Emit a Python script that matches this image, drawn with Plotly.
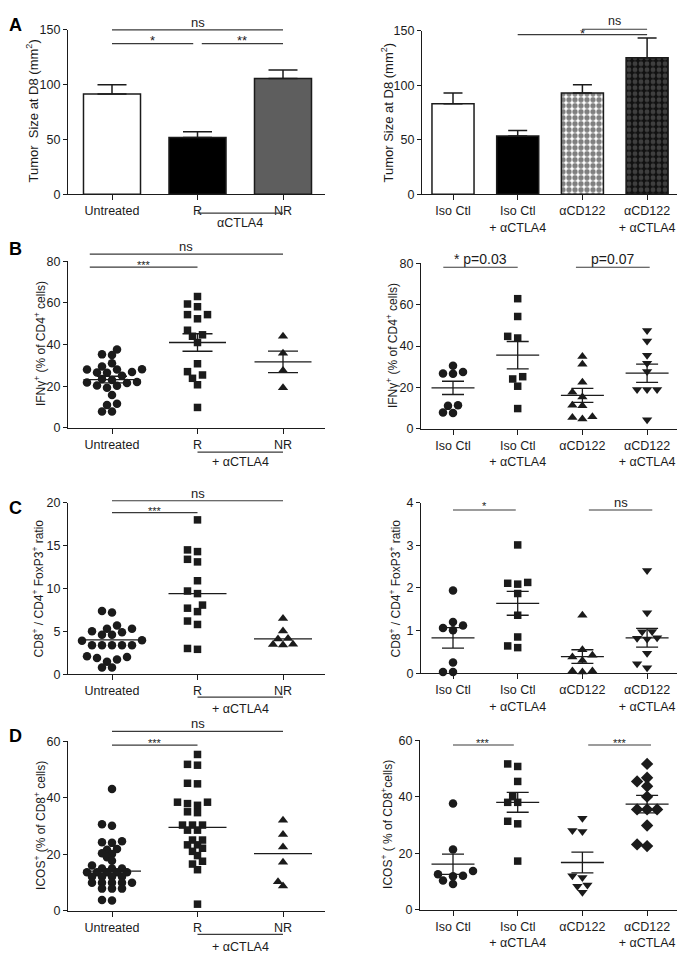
import plotly.graph_objects as go

# the page body keeps its default 8 px margin, so the figure is drawn 8 px in
PAD = 8
FW, FH = 685 - PAD, 962 - PAD
FONT = "Liberation Sans, Arial, sans-serif"
INK = "#1b1b1b"
GREY = "#3a3a3a"

left_groups = ["Untreated", "R", "NR"]
right_groups = ["Iso Ctl", "Iso Ctl<br>+ αCTLA4", "αCD122", "αCD122<br>+ αCTLA4"]

# A: tumour size at D8, mean + SEM
a_yticks = [0, 50, 100, 150]
a_left_mean = [91.5, 51.9, 105.6]
a_left_sem = [8.4, 5.1, 7.8]
a_right_mean = [83.0, 53.4, 93.0, 125.2]
a_right_sem = [10.0, 5.1, 7.5, 18.2]

# B: IFNg+ (% of CD4+ cells)
b_yticks = [0, 20, 40, 60, 80]
b_untreated = [37.7, 35.3, 35.0, 31.0, 29.5, 28.2, 28.0, 28.0, 26.8, 26.6, 26.5, 25.0, 23.5,
               23.0, 22.0, 21.8, 21.5, 20.4, 20.2, 19.3, 15.8, 11.6, 11.0, 7.9, 7.9]
b_r = [63.1, 59.5, 58.2, 54.4, 54.4, 52.4, 46.9, 44.7, 44.0, 41.0, 30.8, 27.0, 25.4, 23.8, 20.7, 9.8]
b_nr = [44.0, 35.8, 27.6, 19.3]
b_left_mean = [23.2, 41.0, 31.7]
b_left_sem = [1.6, 4.2, 5.2]
b_iso = [30.5, 27.5, 26.8, 26.6, 11.4, 11.1, 7.9, 7.7]
b_iso_ctla4 = [62.9, 54.3, 44.7, 43.9, 25.2, 24.1, 20.6, 9.8]
b_cd122 = [34.9, 31.2, 22.5, 17.7, 15.4, 11.4, 11.1, 5.9, 5.5, 4.8]
b_cd122_ctla4 = [47.5, 42.5, 35.6, 31.7, 27.7, 19.0, 19.0, 19.0, 4.4]
b_right_mean = [19.8, 35.6, 16.2, 26.9]
b_right_sem = [3.2, 6.6, 3.4, 4.4]

# C: CD8+ / CD4+ FoxP3+ ratio
c_left_yticks = [0, 5, 10, 15, 20]
c_right_yticks = [0, 1, 2, 3, 4]
c_untreated = [7.37, 7.2, 5.67, 5.29, 5.29, 5.0, 4.9, 4.6, 4.6, 3.95, 3.9, 3.37, 3.37, 3.37,
               3.37, 3.37, 2.1, 2.0, 1.9, 1.72, 1.46, 0.77, 0.77]
c_r = [18.0, 14.5, 14.3, 13.4, 13.1, 10.9, 9.7, 9.4, 8.06, 7.7, 7.3, 6.2, 5.8, 3.0, 2.9]
c_nr = [6.5, 5.05, 4.15, 4.1, 3.5, 3.45, 3.4]
c_left_centre = [4.0, 9.4, 4.12]
c_iso = [1.94, 1.2, 1.12, 1.06, 1.01, 0.25, 0.03, 0.03]
c_iso_ctla4 = [3.01, 2.13, 2.11, 2.09, 1.87, 1.36, 0.85, 0.64, 0.6]
c_cd122 = [1.36, 0.55, 0.42, 0.38, 0.3, 0.05, 0.03, 0.05]
c_cd122_ctla4 = [2.41, 1.42, 0.98, 0.97, 0.83, 0.82, 0.8, 0.47, 0.22, 0.13]
c_right_mean = [0.83, 1.64, 0.39, 0.83]
c_right_sem = [0.24, 0.28, 0.16, 0.22]

# D: ICOS+ (% of CD8+ cells)
d_yticks = [0, 20, 40, 60]
d_untreated = [43.1, 30.6, 30.1, 24.6, 24.2, 24.0, 21.8, 21.6, 20.3, 20.1, 18.9, 17.7, 16.0,
               14.9, 14.9, 14.9, 13.6, 13.6, 13.6, 13.6, 13.6, 12.0, 12.0, 12.0, 12.0,
               9.9, 9.9, 9.9, 9.9, 9.9, 7.8, 7.8, 7.8, 3.8, 3.6]
d_r = [55.3, 51.8, 51.5, 45.1, 44.9, 38.4, 38.4, 37.9, 37.3, 35.0, 34.7, 30.3, 30.3, 30.3,
       28.5, 28.5, 25.0, 25.0, 23.3, 23.3, 22.1, 21.0, 19.5, 17.5, 16.5, 14.5, 2.3]
d_nr = [32.0, 27.0, 22.5, 17.1, 10.25, 8.7]
d_left_centre = [14.0, 29.5, 20.2]
d_iso = [37.6, 21.3, 13.7, 12.5, 12.0, 11.8, 10.3, 9.1]
d_iso_ctla4 = [51.6, 50.7, 45.4, 40.0, 38.0, 38.0, 31.3, 30.4, 17.2]
d_cd122 = [32.4, 28.0, 27.7, 12.0, 11.4, 8.7, 8.3, 6.2]
d_cd122_ctla4 = [51.6, 46.7, 45.4, 43.7, 40.0, 35.5, 35.5, 35.5, 29.8, 23.1, 22.5]
d_right_mean = [16.1, 38.0, 16.7, 37.4]
d_right_sem = [3.6, 3.5, 3.7, 3.1]


fig = go.Figure()


def fx(px):
    return (px - PAD) / FW


def fy(py):
    return 1 - (py - PAD) / FH


def ids(i):
    return ("x", "y") if i == 1 else (f"x{i}", f"y{i}")


def setup_axes(i, box, ymax, yticks, labels, side):
    x0, x1, top, bottom = box
    cat0, step = (112, 85.5) if side == "left" else (453, 64.7)
    xid, yid = ids(i)
    common = dict(showline=True, linecolor=INK, linewidth=1.3, ticks="outside",
                  tickcolor=INK, tickwidth=1.3, showgrid=False, zeroline=False,
                  tickfont=dict(family=FONT, size=12.5, color=INK))
    fig.update_layout(**{
        "xaxis" + xid[1:]: dict(domain=[fx(x0), fx(x1)], range=[(x0 - cat0) / step, (x1 - cat0) / step],
                                anchor=yid, tickmode="array", tickvals=list(range(len(labels))),
                                ticktext=labels, ticklen=5, **common),
        "yaxis" + yid[1:]: dict(domain=[fy(bottom), fy(top)], range=[0, ymax], anchor=xid,
                                tickmode="array", tickvals=yticks, ticklen=4, **common),
    })
    return dict(xid=xid, yid=yid, ppu=(bottom - top) / ymax, ppc=step, ymax=ymax, h=bottom - top)


def swarm_x(values, centre, ppu, ppc, dist=7.5, grid=5):
    # simple beeswarm in pixel space: lowest values first, nearest free offset wins
    offsets = [0]
    for m in range(1, 12):
        offsets += [-m * grid, m * grid]
    placed = []
    xs = [centre] * len(values)
    for k in sorted(range(len(values)), key=lambda j: values[j]):
        ypx = values[k] * ppu
        for off in offsets:
            if all((off - px) ** 2 + (ypx - py) ** 2 >= dist ** 2 for px, py in placed):
                break
        placed.append((off, ypx))
        xs[k] = centre + off / ppc
    return xs


def dots(ax, groups, symbols, dist=7.5):
    for k, (vals, sym) in enumerate(zip(groups, symbols)):
        size = {"circle": 8.5, "square": 7.5, "diamond": 9.5}.get(sym, 9)
        fig.add_trace(go.Scatter(
            x=swarm_x(vals, k, ax["ppu"], ax["ppc"], dist), y=vals, mode="markers",
            marker=dict(symbol=sym, size=size, color=INK, line=dict(width=0)),
            xaxis=ax["xid"], yaxis=ax["yid"], cliponaxis=False, hoverinfo="skip"))


def centre_lines(ax, vals, sem, length_px, cap_px):
    err = dict(type="data", array=sem, width=cap_px, thickness=1.3, color=INK) if sem else dict(visible=False)
    fig.add_trace(go.Scatter(
        x=list(range(len(vals))), y=vals, mode="markers",
        marker=dict(symbol="line-ew", size=length_px / 1.4, color=INK, line=dict(color=INK, width=1.3)),
        error_y=err, xaxis=ax["xid"], yaxis=ax["yid"], cliponaxis=False, hoverinfo="skip"))


def sig(ax, x0, x1, yval, text, size=13, shift=-1):
    frac = yval / ax["ymax"]
    yref = ax["yid"] + " domain"
    fig.add_shape(type="line", xref=ax["xid"], yref=yref, x0=x0, x1=x1, y0=frac, y1=frac,
                  line=dict(color=GREY, width=1.2))
    fig.add_annotation(text=text, xref=ax["xid"], yref=yref, x=(x0 + x1) / 2, y=frac,
                       yanchor="bottom", showarrow=False, yshift=shift, borderpad=0,
                       font=dict(family=FONT, size=size, color=INK))


def bracket(ax, text, line_px, text_px):
    yref = ax["yid"] + " domain"
    fig.add_shape(type="line", xref=ax["xid"], yref=yref, x0=1, x1=2,
                  y0=-line_px / ax["h"], y1=-line_px / ax["h"], line=dict(color=GREY, width=1.2))
    fig.add_annotation(text=text, xref=ax["xid"], yref=yref, x=1.5, y=-text_px / ax["h"],
                       yanchor="middle", showarrow=False, font=dict(family=FONT, size=12.5, color=INK))


def ytitle(text, cx, cy, size=12):
    fig.add_annotation(text=text, xref="paper", yref="paper", x=fx(cx), y=fy(cy),
                       xanchor="center", yanchor="middle", textangle=-90, showarrow=False,
                       font=dict(family=FONT, size=size, color=INK))


def letter(text, cx, cy):
    fig.add_annotation(text=f"<b>{text}</b>", xref="paper", yref="paper", x=fx(cx), y=fy(cy),
                       xanchor="center", yanchor="middle", showarrow=False, borderpad=0,
                       font=dict(family=FONT, size=18, color="#000"))


def bar(ax, idx, means, sems, width, cap, color, pattern=None):
    fig.add_trace(go.Bar(
        x=idx, y=[means[k] for k in idx], width=width, xaxis=ax["xid"], yaxis=ax["yid"],
        marker=dict(color=color, line=dict(color=INK, width=1.5), pattern=pattern or {}),
        error_y=dict(type="data", symmetric=False, array=[sems[k] for k in idx],
                     arrayminus=[0] * len(idx), width=cap, thickness=1.5, color=INK),
        hoverinfo="skip"))


STAR = -5  # asterisks sit low in their text box

# ---- A ----
ax = setup_axes(1, (68, 325, 23, 190), 150, a_yticks, left_groups, "left")
bar(ax, [0], a_left_mean, a_left_sem, 0.667, 14.5, "#ffffff")
bar(ax, [1], a_left_mean, a_left_sem, 0.667, 14.5, "#000000")
bar(ax, [2], a_left_mean, a_left_sem, 0.667, 14.5, "#5e5e5e")
sig(ax, 0, 2, 150, "ns")
sig(ax, 0, 0.95, 137.4, "*", 13, STAR)
sig(ax, 1.05, 2, 137.4, "**", 13, STAR)
bracket(ax, "αCTLA4", 19, 29)
ytitle("Tumor  Size at D8 (mm<sup>2</sup>)", 32, 106, 13)

ax = setup_axes(2, (422, 680, 24, 190), 150, a_yticks, right_groups, "right")
bar(ax, [0], a_right_mean, a_right_sem, 0.65, 9.5, "#ffffff")
bar(ax, [1], a_right_mean, a_right_sem, 0.65, 9.5, "#000000")
bar(ax, [2], a_right_mean, a_right_sem, 0.65, 9.5, "#ffffff",
    dict(shape=".", fgcolor="#000000", bgcolor="#ffffff", size=6, solidity=0.62))
bar(ax, [3], a_right_mean, a_right_sem, 0.65, 9.5, "#111111",
    dict(shape=".", fgcolor="#6e6e6e", bgcolor="#111111", size=6, solidity=0.5))
sig(ax, 1, 3, 146.4, "*", 13, -7)
sig(ax, 2, 3, 151.4, "ns", 12.5, 0)
ytitle("Tumor Size at D8 (mm<sup>2</sup>)", 387, 107, 13)

# ---- B ----
ax = setup_axes(3, (68, 325, 258, 427), 80, b_yticks, left_groups, "left")
dots(ax, [b_untreated, b_r, b_nr], ["circle", "square", "triangle-up"])
centre_lines(ax, b_left_mean, b_left_sem, 57, 15)
sig(ax, -0.26, 2, 83.5, "ns")
sig(ax, -0.26, 1, 77.2, "***", 11, STAR)
bracket(ax, "+ αCTLA4", 24.7, 34.7)
ytitle("IFNγ<sup>+</sup> (% of CD4<sup>+</sup> cells)", 40, 342)

ax = setup_axes(4, (421, 680, 260, 428), 80, b_yticks, right_groups, "right")
dots(ax, [b_iso, b_iso_ctla4, b_cd122, b_cd122_ctla4],
     ["circle", "square", "triangle-up", "triangle-down"])
centre_lines(ax, b_right_mean, b_right_sem, 43, 11)
sig(ax, -0.15, 1, 78.1, "* p=0.03", 14)
sig(ax, 1.9, 3.04, 78.1, "p=0.07", 14)
ytitle("IFNγ<sup>+</sup> (% of CD4<sup>+</sup> cells)", 392, 344)

# ---- C ----
ax = setup_axes(5, (68, 325, 503, 677), 20, c_left_yticks, left_groups, "left")
dots(ax, [c_untreated, c_r, c_nr], ["circle", "square", "triangle-up"])
centre_lines(ax, c_left_centre, None, 58, 0)
sig(ax, 0, 2, 20.23, "ns")
sig(ax, 0, 1, 18.85, "***", 11, STAR)
bracket(ax, "+ αCTLA4", 23.3, 35)
ytitle("CD8<sup>+</sup> / CD4<sup>+</sup> FoxP3<sup>+</sup> ratio", 38, 590)

ax = setup_axes(6, (421, 680, 503, 676), 4, c_right_yticks, right_groups, "right")
dots(ax, [c_iso, c_iso_ctla4, c_cd122, c_cd122_ctla4],
     ["circle", "square", "triangle-up", "triangle-down"])
centre_lines(ax, c_right_mean, c_right_sem, 43, 11)
sig(ax, 0, 0.97, 3.83, "*", 11, STAR + 2)
sig(ax, 2.1, 3.08, 3.83, "ns")
ytitle("CD8<sup>+</sup> / CD4<sup>+</sup> FoxP3<sup>+</sup> ratio", 395, 590)

# ---- D ----
ax = setup_axes(7, (68, 325, 745, 917), 60, d_yticks, left_groups, "left")
dots(ax, [d_untreated, d_r, d_nr], ["circle", "square", "triangle-up"], 6)
centre_lines(ax, d_left_centre, None, 58, 0)
sig(ax, 0, 2, 63.5, "ns")
sig(ax, 0, 1, 58.6, "***", 11, STAR)
bracket(ax, "+ αCTLA4", 24, 36.6)
ytitle("ICOS<sup>+</sup> (% of CD8<sup>+</sup> cells)", 40, 831)

ax = setup_axes(8, (420, 680, 744, 916), 60, d_yticks, right_groups, "right")
dots(ax, [d_iso, d_iso_ctla4, d_cd122, d_cd122_ctla4],
     ["circle", "square", "triangle-down", "diamond"])
centre_lines(ax, d_right_mean, d_right_sem, 43, 11)
sig(ax, 0, 0.94, 58.3, "***", 11, STAR)
sig(ax, 2.09, 3.06, 58.3, "***", 11, STAR)
ytitle("ICOS<sup>+</sup> ( % of CD8<sup>+</sup>cells)", 387, 830)

letter("A", 15, 18)
letter("B", 15, 245)
letter("C", 15, 508)
letter("D", 15, 740)

fig.update_layout(
    width=FW, height=FH, margin=dict(l=0, r=0, t=0, b=0),
    paper_bgcolor="white", plot_bgcolor="white", showlegend=False,
    font=dict(family=FONT, color=INK),
)

fig.write_html("out.html")
